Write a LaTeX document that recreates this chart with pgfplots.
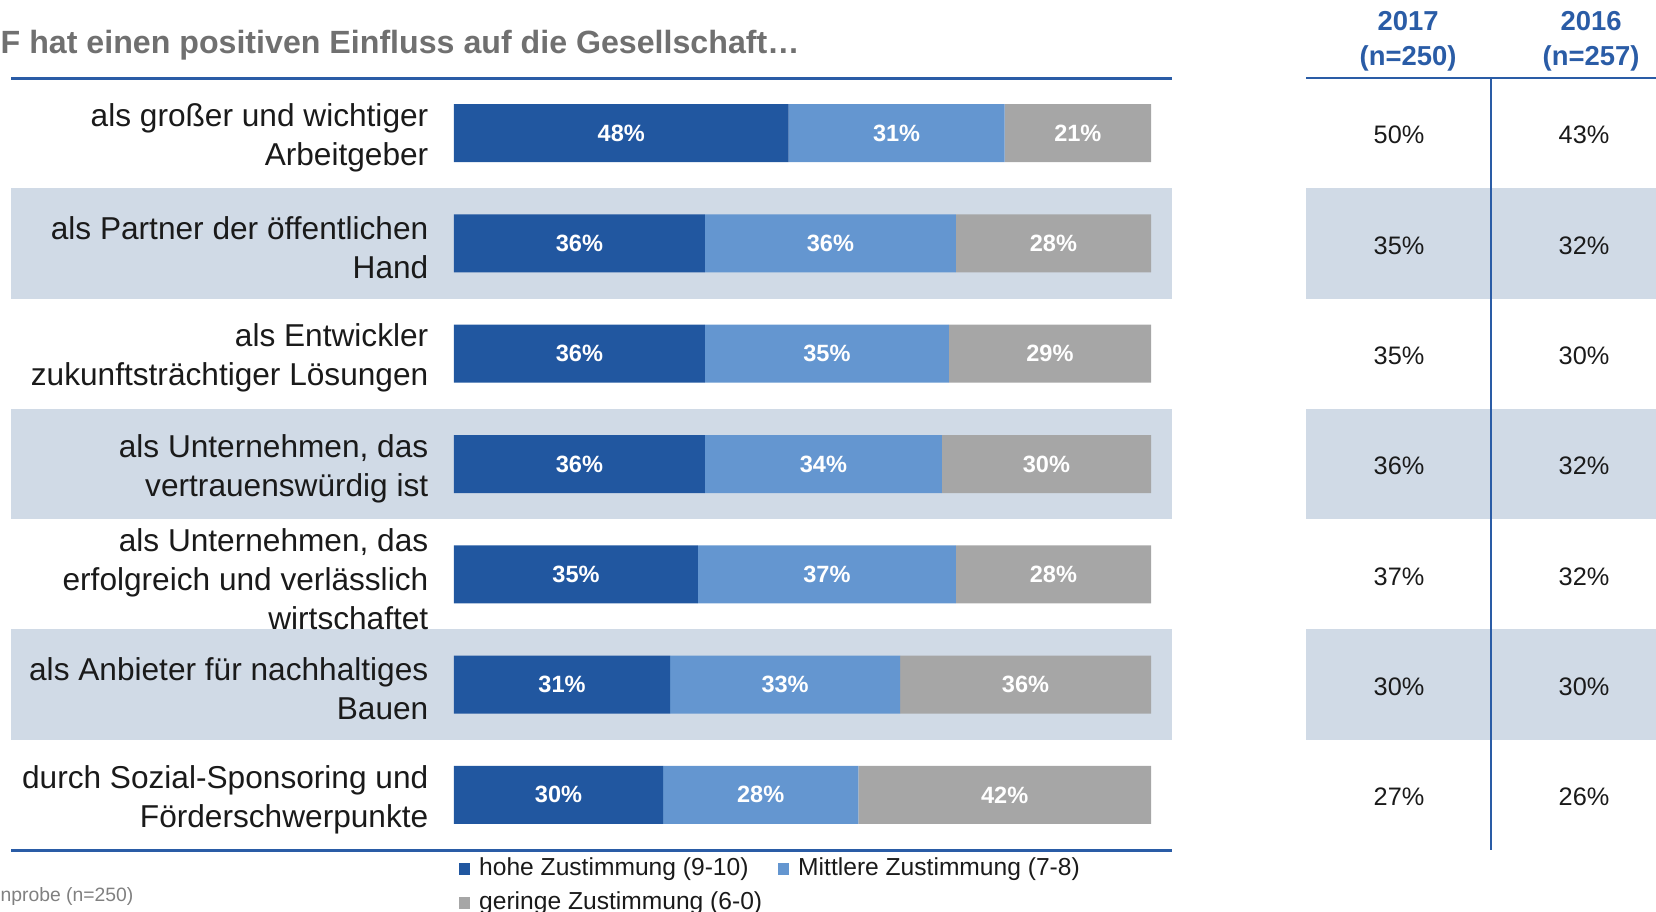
\documentclass[border=0pt]{standalone}
\usepackage{pgfplots}
\usepackage{pgfplotstable}
\pgfplotsset{compat=1.18}
\usepackage{fontspec}
\setmainfont{Liberation Sans}
\definecolor{dblue}{HTML}{2157A0}
\definecolor{mblue}{HTML}{6496D0}
\definecolor{bgray}{HTML}{A6A6A6}
\definecolor{band}{HTML}{D0DAE6}
\definecolor{lineblue}{HTML}{2A5CA6}
\definecolor{titlegray}{HTML}{707070}
\definecolor{txt}{HTML}{1A1A1A}

\pgfplotstableread{
r h m g
0 48 31 21
1 36 36 28
2 36 35 29
3 36 34 30
4 35 37 28
5 31 33 36
6 30 28 42
}\bardata

\pgfplotstableread{
r a b
0 50 43
1 35 32
2 35 30
3 36 32
4 37 32
5 30 30
6 27 26
}\tabdata

\begin{document}
\begin{tikzpicture}
\begin{scope}[x=0.1mm,y=-0.1mm]
\foreach \i in {1,3,5}{
  \fill[band] (11,{78+110.286*\i}) rectangle (1172,{78+110.286*(\i+1)});
  \fill[band] (1306,{78+110.286*\i}) rectangle (1656,{78+110.286*(\i+1)});
}
\draw[lineblue, line width=0.3mm] (11,78) -- (1172,78);
\draw[lineblue, line width=0.3mm] (11,850) -- (1172,850);
\draw[lineblue, line width=0.25mm] (1306,78) -- (1656,78);
\draw[lineblue, line width=0.25mm] (1491,78) -- (1491,850);
\node[anchor=west, inner sep=0, font=\fontsize{9.15}{11}\selectfont\bfseries, text=titlegray] at (0,45) {F hat einen positiven Einfluss auf die Gesellschaft…};
\node[align=center, inner sep=0, font=\fontsize{7.8}{10}\selectfont\bfseries, text=lineblue] at (1408,41.5) {2017\\(n=250)};
\node[align=center, inner sep=0, font=\fontsize{7.8}{10}\selectfont\bfseries, text=lineblue] at (1591,41.5) {2016\\(n=257)};
\node[anchor=west, inner sep=0, font=\fontsize{5.5}{6}\selectfont, text=gray] at (0,896) {nprobe (n=250)};
\end{scope}

\begin{axis}[
  at={(45.4mm,-85mm)}, anchor=south west,
  scale only axis, width=69.7mm, height=77.2mm,
  xbar stacked, bar width=5.8mm,
  xmin=0, xmax=100, ymin=-0.5, ymax=6.5, y dir=reverse,
  axis line style={draw=none}, major tick length=0pt,
  xtick=\empty,
  ytick={0,...,6},
  yticklabels={{als großer und wichtiger\\Arbeitgeber},
               {als Partner der öffentlichen\\Hand},
               {als Entwickler\\zukunftsträchtiger Lösungen},
               {als Unternehmen, das\\vertrauenswürdig ist},
               {als Unternehmen, das\\erfolgreich und verlässlich\\wirtschaftet},
               {als Anbieter für nachhaltiges\\Bauen},
               {durch Sozial-Sponsoring und\\Förderschwerpunkte}},
  yticklabel style={align=right, font=\fontsize{9}{11.1}\selectfont, text=txt, inner sep=0pt, xshift=-2.5mm, yshift=-0.45mm},
  point meta=explicit symbolic,
  nodes near coords={\pgfplotspointmeta\%},
  every node near coord/.append style={anchor=center, text=white, font=\fontsize{6.7}{7}\selectfont\bfseries},
  legend image code/.code={\fill[#1] (0mm,-0.6mm) rectangle (1.15mm,0.6mm);},
  legend columns=2,
  legend cell align=left,
  legend style={at={(0,-0.003)}, anchor=north west, draw=none, fill=none,
    inner xsep=0.4mm, inner ysep=0.3mm,
    font=\fontsize{7.0}{8}\selectfont, text=txt,
    nodes={inner ysep=0.4pt, inner xsep=0.9mm},
    row sep=2.4pt,
    /tikz/every even column/.append style={column sep=0.65mm}},
]
\addplot[fill=dblue, draw=none] table[x=h, y=r, meta=h] \bardata;
\addplot[fill=mblue, draw=none] table[x=m, y=r, meta=m] \bardata;
\addplot[fill=bgray, draw=none] table[x=g, y=r, meta=g] \bardata;
\legend{hohe Zustimmung (9-10), Mittlere Zustimmung (7-8), geringe Zustimmung (6-0)}
\end{axis}

\begin{axis}[
  at={(0mm,-85mm)}, anchor=south west,
  scale only axis, width=165.6mm, height=77.2mm,
  xmin=0, xmax=1656, ymin=-0.5, ymax=6.5, y dir=reverse,
  hide axis,
  point meta=explicit symbolic,
  nodes near coords={\pgfplotspointmeta\%},
  every node near coord/.append style={anchor=center, text=txt, font=\fontsize{7.2}{8}\selectfont, yshift=-0.2mm},
]
\addplot[draw=none, mark=none] table[x expr=1399, y=r, meta=a] \tabdata;
\addplot[draw=none, mark=none] table[x expr=1584, y=r, meta=b] \tabdata;
\end{axis}
\pgfresetboundingbox
\path[use as bounding box] (0mm,0mm) rectangle (165.6mm,-91.2mm);
\end{tikzpicture}
\end{document}
